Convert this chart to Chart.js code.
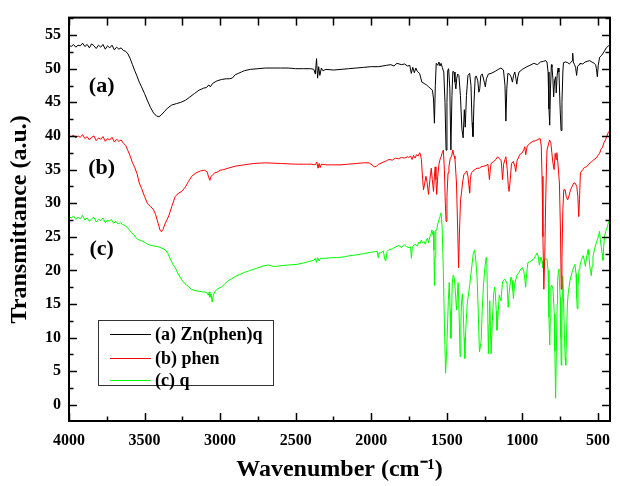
<!DOCTYPE html>
<html><head><meta charset="utf-8">
<script src="https://cdn.jsdelivr.net/npm/chart.js@4"></script>
<style>html,body{margin:0;padding:0;background:#fff}#c{display:block}</style>
</head><body>
<canvas id="c" width="620" height="486"></canvas>
<script>
const seriesLabels = ['(a) Zn(phen)q', '(b) phen', '(c) q'];
const curveTags = ['(a)', '(b)', '(c)'];
const seriesColors = ['#000000', '#ff0000', '#00ff00'];
const xTickLabels = [4000, 3500, 3000, 2500, 2000, 1500, 1000, 500];
const yTickLabels = [0, 5, 10, 15, 20, 25, 30, 35, 40, 45, 50, 55];

// (a) Zn(phen)q : [wavenumber, transmittance]
const seriesA = [
[4000,53.5],[3985,53.3],[3970,53.6],[3955,53.2],[3940,53.5],[3925,53.4],[3910,53.8],[3895,53.3],[3880,53.6],[3865,53.1],
[3850,53.7],[3835,53.4],[3820,53.0],[3805,53.5],[3790,53.2],[3775,53.6],[3760,52.9],[3745,53.4],[3730,53.1],[3715,53.5],
[3700,52.8],[3685,53.2],[3670,52.9],[3655,53.1],[3640,52.7],[3625,52.6],[3610,52.2],[3595,51.5],[3580,50.6],[3565,49.7],
[3550,48.9],[3535,48.0],[3520,47.3],[3500,46.3],[3480,45.2],[3460,44.2],[3440,43.4],[3420,42.95],[3405,42.85],[3390,43.1],
[3370,43.6],[3350,44.1],[3320,44.6],[3290,44.8],[3260,45.0],[3230,45.3],[3200,45.8],[3170,46.3],[3140,46.8],[3110,47.1],
[3090,47.2],[3075,47.6],[3065,47.3],[3050,47.8],[3020,48.2],[2990,48.4],[2960,48.5],[2940,48.5],[2920,48.6],[2900,49.1],
[2880,49.3],[2860,49.5],[2840,49.7],[2800,49.9],[2750,50.0],[2700,50.1],[2650,50.1],[2600,50.1],[2550,50.1],[2500,50.0],
[2450,50.0],[2400,50.0],[2380,49.9],[2370,49.2],[2362,51.5],[2355,48.6],[2348,50.3],[2340,49.0],[2330,50.1],[2320,49.7],
[2300,49.9],[2250,49.8],[2200,49.9],[2150,50.0],[2100,50.1],[2050,50.2],[2000,50.3],[1950,50.3],[1900,50.5],[1870,50.6],
[1850,50.4],[1830,50.8],[1800,50.6],[1780,50.7],[1760,50.4],[1745,50.5],[1735,49.3],[1725,50.2],[1715,49.4],[1705,50.1],
[1695,49.6],[1680,49.3],[1665,48.0],[1650,47.8],[1635,47.6],[1620,47.3],[1605,47.0],[1595,46.8],[1588,45.5],[1582,41.9],
[1576,47.5],[1570,50.8],[1560,50.5],[1552,51.0],[1545,50.4],[1538,50.8],[1530,50.2],[1520,49.5],[1512,45.0],[1505,37.9],
[1499,45.0],[1494,49.7],[1488,50.0],[1480,47.0],[1473,37.9],[1466,46.0],[1460,49.6],[1452,49.5],[1446,48.0],[1440,47.0],
[1434,48.6],[1428,49.2],[1420,49.0],[1410,46.0],[1400,41.0],[1392,39.7],[1384,43.9],[1378,41.3],[1370,46.0],[1360,49.0],
[1349,49.3],[1340,47.5],[1333,42.0],[1327,39.9],[1320,45.0],[1312,48.8],[1305,48.9],[1295,48.2],[1288,46.5],[1282,47.0],
[1275,49.0],[1265,49.2],[1252,48.0],[1245,47.3],[1238,48.5],[1225,49.2],[1207,49.3],[1180,49.6],[1160,49.9],[1142,50.1],
[1125,49.8],[1115,47.5],[1109,42.2],[1103,47.0],[1096,49.3],[1085,49.2],[1075,48.8],[1066,48.0],[1058,49.0],[1050,49.5],
[1043,48.6],[1037,47.7],[1030,48.8],[1022,49.5],[1000,49.9],[970,50.3],[950,50.5],[924,50.8],[900,50.6],[880,51.0],
[860,51.1],[845,51.2],[837,51.0],[830,49.5],[824,44.0],[819,41.6],[814,47.0],[808,50.6],[804,50.2],[798,48.5],
[793,45.8],[787,48.2],[780,48.8],[776,46.4],[770,49.0],[764,50.1],[758,49.5],[750,44.0],[744,40.8],[738,45.0],
[732,49.5],[728,50.9],[715,51.0],[700,50.9],[690,50.7],[680,50.9],[670,51.2],[667,52.3],[663,51.0],[655,50.6],
[648,50.2],[641,49.0],[635,50.3],[625,50.6],[619,50.8],[600,50.7],[585,51.0],[570,51.1],[554,51.2],[540,51.0],
[525,50.8],[515,50.6],[510,50.0],[504,48.8],[498,50.5],[489,51.7],[475,52.0],[460,52.5],[445,53.1],[430,53.4],[420,53.6]
];

// (b) phen
const seriesB = [
[4000,40.0],[3985,39.9],[3970,40.1],[3955,39.7],[3940,40.0],[3925,39.8],[3910,40.2],[3895,39.6],[3880,39.9],[3865,39.4],
[3850,39.8],[3835,40.0],[3820,39.3],[3805,39.7],[3790,39.5],[3775,39.9],[3760,39.2],[3745,39.6],[3730,39.4],[3715,39.8],
[3700,39.1],[3685,39.5],[3670,39.2],[3655,39.4],[3640,38.9],[3625,38.6],[3610,37.8],[3595,37.0],[3580,36.0],[3565,35.3],
[3550,34.4],[3535,33.0],[3520,32.2],[3500,31.0],[3482,30.0],[3460,29.5],[3440,29.0],[3427,28.3],[3410,27.0],[3398,26.0],
[3388,25.75],[3378,26.1],[3365,26.9],[3350,27.6],[3340,28.1],[3320,29.5],[3297,31.0],[3275,31.5],[3254,31.75],[3230,32.4],
[3210,33.2],[3188,34.0],[3160,34.5],[3130,34.8],[3101,34.9],[3085,34.6],[3075,33.8],[3068,33.4],[3060,34.0],[3050,34.2],
[3036,34.5],[3020,34.6],[3000,34.9],[2975,35.0],[2947,35.2],[2900,35.5],[2840,35.7],[2780,35.9],[2700,36.0],[2600,35.9],
[2500,35.8],[2450,35.8],[2400,35.8],[2370,35.7],[2360,36.1],[2352,35.2],[2345,35.9],[2338,35.3],[2330,35.8],[2300,35.7],
[2250,35.7],[2200,35.7],[2150,35.8],[2100,35.9],[2050,36.0],[2015,36.0],[1995,35.7],[1980,35.4],[1965,35.5],[1950,35.8],
[1920,36.1],[1900,36.3],[1882,36.5],[1860,36.4],[1840,36.7],[1820,36.6],[1800,36.8],[1780,36.7],[1760,36.9],[1751,36.8],
[1740,37.0],[1730,36.5],[1720,37.1],[1710,36.7],[1700,37.2],[1690,37.0],[1680,37.5],[1675,37.3],[1668,36.5],[1660,33.5],
[1654,32.0],[1646,33.0],[1638,34.0],[1630,33.0],[1621,31.3],[1612,33.5],[1603,35.2],[1596,33.5],[1588,31.75],[1582,34.0],
[1577,35.4],[1572,33.5],[1567,31.3],[1560,34.0],[1552,35.8],[1545,36.5],[1538,36.9],[1530,37.5],[1523,37.9],[1516,35.0],
[1510,30.0],[1505,27.3],[1499,31.0],[1492,34.5],[1486,35.4],[1478,36.6],[1468,37.0],[1460,37.9],[1452,37.0],[1446,36.6],
[1436,33.0],[1428,26.0],[1422,20.4],[1416,26.0],[1409,30.5],[1403,31.5],[1396,33.0],[1388,34.2],[1377,34.5],[1368,34.8],
[1360,34.0],[1353,32.5],[1349,31.5],[1344,33.5],[1338,34.5],[1320,34.9],[1300,35.2],[1285,35.2],[1273,35.4],[1255,35.5],
[1240,35.6],[1228,35.8],[1222,34.5],[1218,33.5],[1212,35.0],[1207,35.9],[1190,36.2],[1175,36.5],[1164,36.9],[1150,36.6],
[1140,36.3],[1131,33.5],[1124,35.8],[1115,36.5],[1109,36.9],[1100,35.0],[1093,32.5],[1088,31.75],[1080,33.5],[1072,35.9],
[1060,36.2],[1050,35.5],[1044,34.7],[1035,36.3],[1022,37.0],[1010,37.4],[1000,37.5],[990,38.0],[984,38.4],[978,37.2],
[968,38.5],[950,38.9],[930,39.2],[910,39.3],[895,39.5],[882,39.6],[875,38.5],[870,34.0],[864,25.0],[858,17.2],
[852,22.0],[846,30.0],[840,36.0],[837,37.9],[830,38.5],[820,39.4],[812,39.0],[805,37.5],[798,36.0],[790,35.0],
[783,37.4],[777,36.5],[772,37.5],[765,36.0],[755,33.0],[748,26.0],[743,17.2],[738,22.0],[732,29.0],[726,32.0],
[717,32.0],[710,31.0],[700,30.5],[690,31.2],[681,32.0],[670,32.5],[660,33.0],[652,33.0],[640,32.5],[633,31.0],
[627,28.0],[622,30.5],[616,34.5],[600,35.0],[590,35.3],[576,35.4],[560,35.8],[540,36.2],[525,36.5],[511,36.7],
[500,37.1],[489,37.4],[480,38.0],[470,38.3],[460,39.0],[450,39.4],[440,40.0],[430,40.6],[423,40.5],[420,38.0]
];

// (c) q
const seriesC = [
[4000,28.0],[3985,27.8],[3970,28.1],[3955,27.6],[3940,27.9],[3925,27.7],[3910,28.2],[3895,27.5],[3880,27.8],[3865,27.3],
[3850,27.7],[3835,27.9],[3820,27.2],[3805,27.6],[3790,27.4],[3775,27.8],[3760,27.1],[3745,27.5],[3733,27.3],[3720,27.6],
[3705,27.0],[3690,27.3],[3675,26.9],[3660,27.1],[3645,26.8],[3630,26.7],[3615,26.4],[3600,26.0],[3585,25.6],[3570,25.3],
[3558,24.9],[3545,24.6],[3530,24.5],[3510,24.3],[3493,24.1],[3470,23.8],[3450,23.7],[3430,23.6],[3406,23.5],[3385,23.3],
[3362,23.05],[3345,22.5],[3330,21.7],[3315,21.0],[3297,20.4],[3280,19.6],[3260,18.8],[3245,18.3],[3231,18.0],[3210,17.6],
[3190,17.2],[3166,17.0],[3140,16.9],[3115,16.8],[3090,16.75],[3078,16.3],[3072,16.8],[3068,16.0],[3060,16.5],[3053,15.3],
[3046,16.2],[3036,16.8],[3020,17.2],[3005,17.4],[2992,17.5],[2970,18.0],[2950,18.4],[2927,18.7],[2900,19.1],[2870,19.4],
[2840,19.7],[2800,20.0],[2760,20.3],[2709,20.7],[2680,20.8],[2650,20.6],[2622,20.6],[2600,20.7],[2550,20.8],[2491,20.9],
[2450,21.1],[2400,21.4],[2380,21.5],[2370,21.8],[2362,21.2],[2355,21.9],[2345,21.4],[2335,21.8],[2300,21.8],[2260,21.9],
[2230,21.9],[2180,22.0],[2140,22.2],[2100,22.3],[2050,22.5],[2000,22.7],[1975,22.8],[1960,22.8],[1955,21.9],[1950,22.6],
[1935,22.6],[1920,22.9],[1910,21.6],[1904,21.4],[1895,22.8],[1882,23.1],[1860,23.2],[1840,23.5],[1817,23.7],[1800,23.4],
[1780,23.8],[1765,23.5],[1751,23.4],[1740,23.5],[1734,21.8],[1728,23.5],[1715,23.8],[1708,23.9],[1695,23.6],[1685,24.2],
[1677,24.0],[1669,24.5],[1660,24.1],[1650,24.3],[1643,23.9],[1635,24.5],[1628,24.8],[1621,24.1],[1612,25.0],[1605,25.4],
[1599,26.0],[1592,25.3],[1588,25.8],[1585,23.0],[1582,17.75],[1578,22.0],[1573,26.0],[1567,26.0],[1560,26.9],[1551,27.6],
[1545,28.0],[1538,28.55],[1531,26.5],[1523,20.0],[1516,12.0],[1508,4.7],[1501,8.0],[1495,12.0],[1490,15.5],[1484,18.2],
[1478,14.0],[1473,9.9],[1468,14.0],[1464,18.0],[1458,19.3],[1451,19.0],[1444,17.0],[1436,14.1],[1430,16.5],[1425,18.2],
[1418,13.0],[1412,7.2],[1407,12.0],[1403,15.0],[1397,16.5],[1392,14.5],[1386,10.0],[1381,6.9],[1375,11.0],[1365,15.0],
[1349,17.75],[1335,20.5],[1325,22.5],[1316,23.05],[1308,21.5],[1299,18.7],[1291,13.0],[1284,7.9],[1279,8.5],[1273,9.4],
[1266,14.0],[1258,17.5],[1250,20.0],[1240,21.9],[1236,21.7],[1230,15.0],[1225,7.6],[1220,12.0],[1216,15.5],[1211,11.0],
[1207,7.6],[1200,12.0],[1190,16.5],[1184,17.5],[1179,16.75],[1173,14.0],[1168,11.1],[1162,13.0],[1153,16.3],[1147,15.8],
[1142,15.5],[1136,17.0],[1131,18.3],[1122,18.6],[1115,18.7],[1108,18.3],[1102,18.2],[1098,16.5],[1094,14.5],[1088,16.5],
[1076,19.0],[1068,18.5],[1063,17.0],[1059,15.8],[1052,17.8],[1044,18.6],[1035,19.3],[1022,19.7],[1010,20.2],[1000,20.4],
[990,19.8],[983,18.5],[978,17.5],[972,19.5],[963,21.2],[950,21.3],[937,21.5],[924,21.7],[912,22.2],[902,22.6],
[894,22.0],[888,20.8],[886,20.9],[880,21.7],[876,22.0],[870,21.3],[865,20.4],[858,21.3],[850,21.7],[837,21.7],
[830,20.0],[824,13.0],[819,8.9],[815,13.0],[811,17.5],[805,17.8],[798,17.2],[792,15.0],[789,13.5],[785,8.0],
[780,1.0],[775,8.0],[770,15.0],[767,18.5],[762,19.8],[758,20.2],[754,18.0],[750,16.0],[746,10.0],[743,5.9],
[739,12.0],[735,17.0],[733,19.2],[728,16.0],[722,10.5],[717,7.0],[713,5.9],[708,10.0],[702,15.0],[696,16.7],
[685,18.5],[674,19.5],[660,20.5],[652,20.9],[645,19.5],[641,16.0],[637,14.3],[632,17.5],[625,20.2],[619,20.7],
[610,21.5],[598,22.2],[590,21.5],[583,20.6],[575,22.0],[565,23.1],[560,22.3],[554,20.6],[548,19.8],[544,19.2],
[539,20.6],[533,22.0],[522,23.2],[511,24.1],[500,24.8],[489,25.8],[484,24.5],[478,23.5],[472,22.5],[467,21.5],
[462,23.5],[456,25.1],[448,25.8],[440,26.4],[435,26.8],[428,27.2],[420,27.6]
];

const allSeries = [seriesA, seriesB, seriesC];
const SERIF = "'Liberation Serif','Times New Roman',serif";

const decor = {
  id: 'decor',
  afterDatasetsDraw(chart) {
    const {ctx, chartArea: a, scales: {x, y}} = chart;
    ctx.save();
    ctx.strokeStyle = '#000';
    ctx.lineCap = 'butt';
    const seg = (x1, y1, x2, y2) => { ctx.beginPath(); ctx.moveTo(x1, y1); ctx.lineTo(x2, y2); ctx.stroke(); };
    ctx.lineWidth = 1.5;
    const xVals = [];
    xTickLabels.forEach(v => { xVals.push([v, true]); xVals.push([v - 250, false]); });
    xVals.forEach(([v, major]) => {
      if (v < x.min || v > x.max) return;
      const px = Math.round(x.getPixelForValue(v)) + 0.5;
      seg(px, a.bottom, px, a.bottom - (major ? 8 : 4.5));
      seg(px, a.top, px, a.top + 8);
    });
    const yVals = [];
    yTickLabels.forEach(v => { yVals.push([v, true]); yVals.push([v + 2.5, false]); });
    yVals.forEach(([v, major]) => {
      if (v < y.min || v > y.max) return;
      const py = Math.round(y.getPixelForValue(v)) + 0.5;
      seg(a.left, py, a.left + (major ? 8 : 4.5), py);
      seg(a.right, py, a.right - (major ? 8 : 4.5), py);
    });
    ctx.lineWidth = 2;
    ctx.strokeRect(a.left, a.top, a.right - a.left, a.bottom - a.top);

    ctx.fillStyle = '#000';
    ctx.font = 'bold 22px ' + SERIF;
    ctx.textAlign = 'center';
    ctx.textBaseline = 'middle';
    const tagT = [47.4, 35.2, 23.1];
    curveTags.forEach((t, i) => ctx.fillText(t, x.getPixelForValue(3784), y.getPixelForValue(tagT[i])));

    const bx = 98.5, by = 320.5, bw = 175, bh = 65;
    ctx.fillStyle = '#fff';
    ctx.fillRect(bx, by, bw, bh);
    ctx.lineWidth = 1;
    ctx.strokeStyle = '#333';
    ctx.strokeRect(bx, by, bw, bh);
    ctx.font = 'bold 18px ' + SERIF;
    ctx.textAlign = 'left';
    const rows = [334.5, 358.5, 380.5];
    seriesLabels.forEach((lab, i) => {
      ctx.strokeStyle = seriesColors[i];
      ctx.lineWidth = 1;
      seg(110, rows[i], 151, rows[i]);
      ctx.fillStyle = '#000';
      ctx.fillText(lab, 155, rows[i] + 1);
    });
    ctx.restore();
  }
};

new Chart(document.getElementById('c'), {
  type: 'line',
  data: {
    datasets: allSeries.map((s, i) => ({
      label: seriesLabels[i],
      data: s.map(p => ({x: p[0], y: p[1]})),
      borderColor: seriesColors[i],
      backgroundColor: seriesColors[i],
      borderWidth: 1,
      pointRadius: 0,
      tension: 0,
      fill: false
    }))
  },
  options: {
    responsive: false,
    animation: false,
    devicePixelRatio: 1,
    layout: {padding: {top: 13, right: 3, left: 0, bottom: 0}},
    plugins: {legend: {display: false}, tooltip: {enabled: false}},
    scales: {
      x: {
        type: 'linear', reverse: true, min: 420, max: 4000,
        afterBuildTicks: s => { s.ticks = xTickLabels.map(v => ({value: v})); },
        afterFit: s => { s.height = 65; },
        grid: {display: false, drawTicks: false},
        border: {display: false},
        ticks: {color: '#000', font: {family: SERIF, size: 16, weight: 'bold'}, padding: 10, maxRotation: 0, autoSkip: false, callback: v => String(v)},
        title: {display: true, text: 'Wavenumber (cm⁻¹)', color: '#000', font: {family: SERIF, size: 24, weight: 'bold'}, padding: {top: 0, bottom: 2}}
      },
      y: {
        type: 'linear', min: -2.4, max: 57.6,
        afterBuildTicks: s => { s.ticks = yTickLabels.map(v => ({value: v})); },
        afterFit: s => { s.width = 69; },
        grid: {display: false, drawTicks: false},
        border: {display: false},
        ticks: {color: '#000', font: {family: SERIF, size: 16, weight: 'bold'}, padding: 8, callback: v => String(v)},
        title: {display: true, text: 'Transmittance (a.u.)', color: '#000', font: {family: SERIF, size: 24, weight: 'bold'}, padding: {top: 5, bottom: 0}}
      }
    }
  },
  plugins: [decor]
});
</script>
</body></html>
